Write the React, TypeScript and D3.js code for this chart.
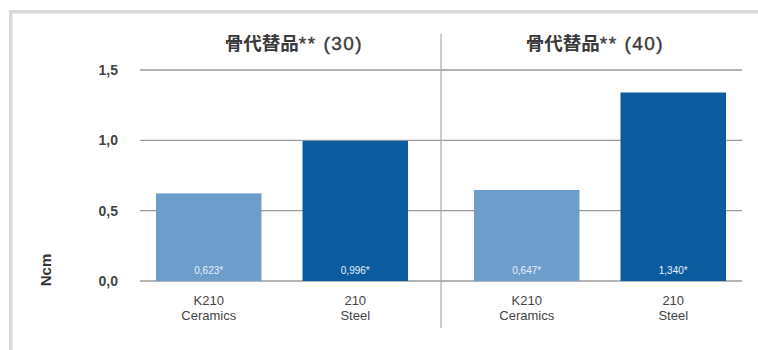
import React from "react";
import * as d3 from "d3";

const groups = ["骨代替品** (30)", "骨代替品** (40)"];
const categories = ["K210|Ceramics", "210|Steel"];
const values30 = [0.623, 0.996];
const values40 = [0.647, 1.34];
const valueLabels30 = ["0,623*", "0,996*"];
const valueLabels40 = ["0,647*", "1,340*"];
const yTicks = [0, 0.5, 1.0, 1.5];
const yTickLabels = ["0,0", "0,5", "1,0", "1,5"];
const colors = ["#6d9dcb", "#0b5b9f"];

export default function App() {
  const W = 758, H = 350;
  const y = d3.scaleLinear().domain([0, 1.5]).range([281, 70]);
  const gx = d3.scaleBand<number>().domain([0, 1]).range([156, 726]).paddingInner(0.2075);
  const allValues = [values30, values40];
  const allLabels = [valueLabels30, valueLabels40];
  const font = "'Liberation Sans', Arial, sans-serif";
  return (
    <svg width={W} height={H} style={{ position: "absolute", left: 0, top: 0, background: "#fff" }}>
      <rect x={0} y={0} width={W} height={H} fill="#fff" />
      {/* card border */}
      <rect x={9} y={10} width={W - 9} height={3} fill="#d9d9d9" />
      <rect x={9} y={10} width={3} height={H - 10} fill="#d9d9d9" />
      <rect x={12} y={13} width={W - 12} height={1} fill="#ececec" />
      <rect x={12} y={13} width={1} height={H - 13} fill="#ececec" />
      {/* gridlines */}
      {yTicks.map((t, i) => (
        <line key={i} x1={140} x2={742} y1={y(t)} y2={y(t)} stroke="#9a9a9a" strokeWidth={1.3} />
      ))}
      {/* divider */}
      <line x1={441} x2={441} y1={34} y2={328} stroke="#a8a8a8" strokeWidth={1.2} />
      {/* y tick labels */}
      {yTicks.map((t, i) => (
        <text key={i} x={118} y={y(t) + 5} textAnchor="end" fontFamily={font} fontWeight="bold"
          fontSize={14} fill="#444">{yTickLabels[i]}</text>
      ))}
      <text transform={`translate(51,270) rotate(-90)`} textAnchor="middle" fontFamily={font}
        fontWeight="bold" fontSize={15} fill="#333">Ncm</text>
      {groups.map((g, gi) => {
        const gStart = gx(gi)!;
        const gw = gx.bandwidth();
        const inner = d3.scaleBand<number>().domain([0, 1]).range([gStart, gStart + gw]).paddingInner(0.28);
        const [cjk, rest] = [g.slice(0, 4), g.slice(4)];
        return (
          <g key={gi}>
            <text x={gi === 0 ? 294 : 595} y={50} textAnchor="middle" fill="#3a3a3a" fontWeight="bold">
              <tspan fontFamily="'Noto Sans CJK JP', sans-serif" fontSize={18.5}>{cjk}</tspan>
              <tspan fontFamily={font} fontSize={19} letterSpacing={1.5} fontWeight="normal" stroke="#3a3a3a" strokeWidth={0.4}>{rest}</tspan>
            </text>
            {allValues[gi].map((v, ci) => {
              const bx = inner(ci)!;
              const bw = inner.bandwidth();
              const [l1, l2] = categories[ci].split("|");
              return (
                <g key={ci}>
                  <rect x={bx} y={y(v)} width={bw} height={y(0) - y(v)} fill={colors[ci]} />
                  <text x={bx + bw / 2} y={274} textAnchor="middle" fontFamily={font} fontSize={10}
                    fill="#e8f0f8">{allLabels[gi][ci]}</text>
                  <text x={bx + bw / 2} y={305} textAnchor="middle" fontFamily={font} fontSize={13}
                    fill="#444">{l1}</text>
                  <text x={bx + bw / 2} y={320} textAnchor="middle" fontFamily={font} fontSize={13}
                    fill="#444">{l2}</text>
                </g>
              );
            })}
          </g>
        );
      })}
    </svg>
  );
}
